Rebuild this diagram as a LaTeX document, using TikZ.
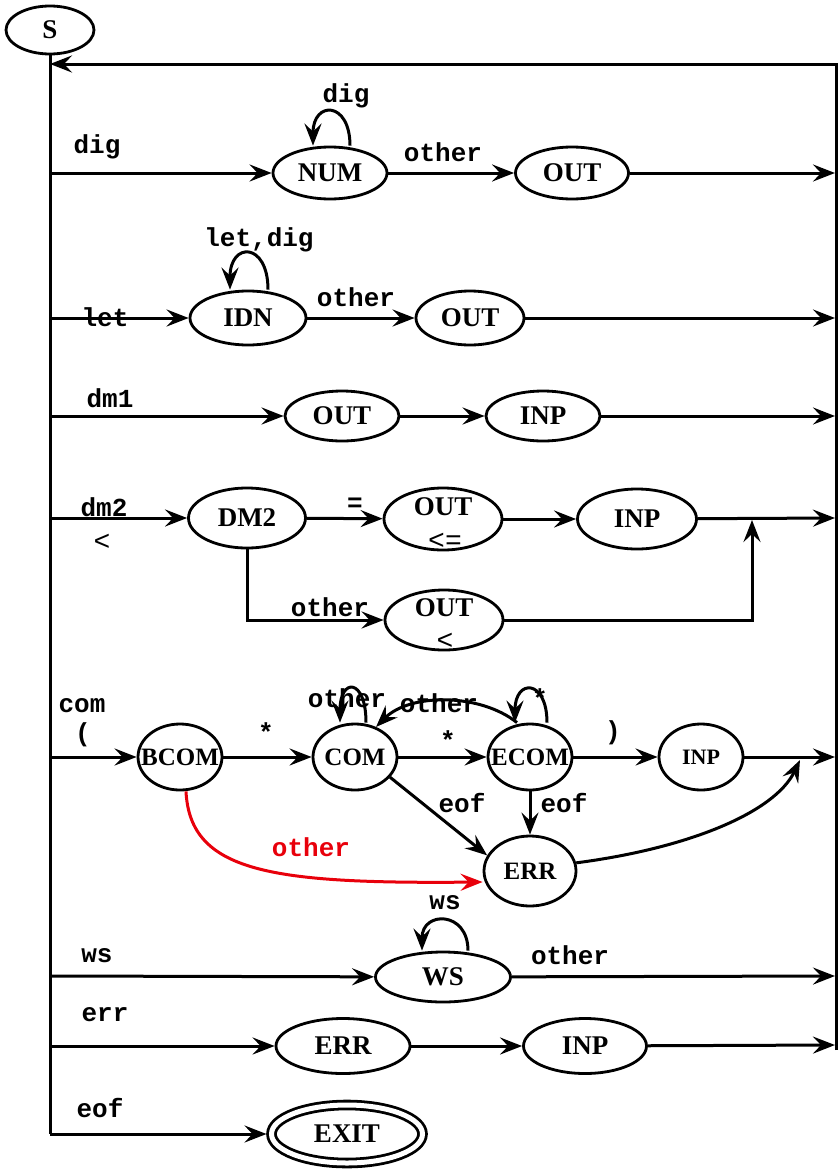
\documentclass[tikz,border=0pt]{standalone}
\usepackage{fontspec}
\setmainfont{Liberation Serif}
\setmonofont{Liberation Mono}
\usetikzlibrary{arrows.meta,shapes.geometric}
\definecolor{errRed}{HTML}{E8000B}

\begin{document}
\begin{tikzpicture}[x=1pt,y=-1pt,
  state/.style={draw,ellipse,line width=2.8pt,inner sep=0pt,
    font=\fontsize{27}{27}\selectfont\bfseries},
  sz/.style 2 args={minimum width=#1pt,minimum height=#2pt},
  cramp/.style={inner xsep=-20pt,font=\fontsize{25}{25}\selectfont\bfseries},
  stxt/.style={inner sep=0pt,font=\fontsize{27}{27}\selectfont\bfseries},
  lbl/.style={inner sep=0pt,font=\fontsize{26}{26}\selectfont\ttfamily\bfseries},
  thin/.style={inner sep=0pt,font=\fontsize{28}{28}\selectfont\ttfamily},
  arr/.style={-{Stealth[length=22pt,width=17pt,inset=8pt]},line width=3pt},
  wire/.style={line width=3pt}
]
\useasboundingbox (0,0) rectangle (838,1170);

% rails
\node[state,sz={88}{48}] (s) at (50,30) {S};
\coordinate (ltop) at (50,64);
\coordinate (rtop) at (836,64);
\coordinate (rbot) at (836,1050);
\coordinate (lbot) at (50,1134);
\draw[wire] (s.south) -- (lbot);
\draw[arr] (rbot) -- (rtop) -- (ltop);

% numbers
\node[state,sz={114}{52}] (num) at (330,173) {NUM};
\node[state,sz={113}{52}] (outa) at (572,173) {OUT};
\coordinate (la) at (50,173);
\coordinate (ra) at (835,173);
\draw[arr] (la) -- (num);
\draw[arr] (num) -- (outa);
\draw[arr] (outa) -- (ra);
\draw[arr] ([xshift=20pt]num.north) .. controls +(0,-45) and +(0,-45) .. ([xshift=-17pt]num.north);
\node[lbl] (tdig) at (97,147) {dig};
\node[lbl] (tdigloop) at (346,96) {dig};
\node[lbl] (tothera) at (443,152) {other};

% identifiers
\node[state,sz={116}{54}] (idn) at (248,318) {IDN};
\node[state,sz={108}{54}] (outb) at (470,318) {OUT};
\coordinate (lb) at (50,318);
\coordinate (rb) at (835,318);
\draw[arr] (lb) -- (idn);
\draw[arr] (idn) -- (outb);
\draw[arr] (outb) -- (rb);
\draw[arr] ([xshift=20pt]idn.north) .. controls +(0,-48) and +(0,-48) .. ([xshift=-18pt]idn.north);
\node[lbl] (tlet) at (105,317) {let};
\node[lbl] (tletdig) at (259,240) {let,dig};
\node[lbl] (totherb) at (356,297) {other};

% single delimiters
\node[state,sz={114}{50}] (outc) at (342,416) {OUT};
\node[state,sz={114}{50}] (inpc) at (543,416) {INP};
\coordinate (lc) at (50,416);
\coordinate (rc) at (835,416);
\draw[arr] (lc) -- (outc);
\draw[arr] (outc) -- (inpc);
\draw[arr] (inpc) -- (rc);
\node[lbl] (tdmone) at (110,398) {dm1};

% double delimiters
\node[state,sz={117}{60}] (dmtwo) at (247,518) {DM2};
\node[state,sz={118}{62}] (outd) at (443,519) {};
\node[stxt] (toutd) at (443,507) {OUT};
\node[thin] (tle) at (445,541) {<=};
\node[state,sz={119}{60}] (inpd) at (637,519) {INP};
\node[state,sz={118}{60}] (oute) at (444,620) {};
\node[stxt] (toute) at (444,608) {OUT};
\node[thin] (tlt) at (445,641) {<};
\coordinate (ld) at (50,518);
\coordinate (rd) at (835,518);
\coordinate (jd) at (752,620);
\coordinate (kd) at (752,520);
\draw[arr] (ld) -- (dmtwo);
\draw[arr] (dmtwo) -- (outd);
\draw[arr] (outd) -- (inpd);
\draw[arr] (inpd) -- (rd);
\draw[arr] (dmtwo.south) |- (oute);
\draw[arr] (oute) -- (jd) -- (kd);
\node[lbl] (tdmtwo) at (104,507) {dm2};
\node[thin] (tless) at (102,542) {<};
\node[lbl] (teq) at (355,505) {=};
\node[lbl] (totherd) at (330,607) {other};

% comments
\node[state,cramp,sz={84}{66}] (bcom) at (180,757) {BCOM};
\node[state,cramp,sz={84}{66}] (com) at (355,757) {COM};
\node[state,cramp,sz={84}{66}] (ecom) at (530,757) {ECOM};
\node[state,cramp,sz={84}{66},font=\fontsize{22}{22}\selectfont\bfseries] (inpf) at (701,757) {INP};
\node[state,cramp,sz={92}{70}] (errf) at (530,871) {ERR};
\coordinate (lf) at (50,757);
\coordinate (rf) at (835,757);
\coordinate (mf) at (800,760);
\draw[arr] (lf) -- (bcom);
\draw[arr] (bcom) -- (com);
\draw[arr] (com) -- (ecom);
\draw[arr] (ecom) -- (inpf);
\draw[arr] (inpf) -- (rf);
\draw[arr] ([xshift=11pt]com.north) .. controls +(0,-45) and +(0,-45) .. ([xshift=-15pt]com.north);
\draw[arr] ([xshift=17pt]ecom.north) .. controls +(0,-44) and +(0,-44) .. ([xshift=-15pt]ecom.north);
\draw[arr] ([xshift=-13pt]ecom.north) .. controls (480,693) and (410,693) .. (com.55);
\draw[arr] (com.-30) -- (errf.160);
\draw[arr] (ecom.south) -- (errf.north);
\draw[arr] (errf.10) .. controls (690,848) and (775,812) .. (mf);
\draw[arr,errRed] ([xshift=6pt]bcom.south) .. controls (190,872) and (270,884) .. ([yshift=-11pt]errf.west);
\node[lbl] (tcom) at (82,706) {com};
\node[lbl] (tparen) at (83,735) {(};
\node[lbl] (tstara) at (266,732) {*};
\node[lbl] (tstarb) at (448,740) {*};
\node[lbl] (tstarc) at (540,698) {*};
\node[lbl] (tothercom) at (347,698) {other};
\node[lbl] (totherecom) at (439,703) {other};
\node[lbl] (trparen) at (613,733) {)};
\node[lbl] (teofa) at (462,803) {eof};
\node[lbl] (teofb) at (564,803) {eof};
\node[lbl,text=errRed] (totherred) at (311,847) {other};

% white space
\node[state,sz={135}{50}] (ws) at (443,977) {WS};
\coordinate (lg) at (50,976);
\coordinate (rg) at (835,976);
\draw[arr] (lg) -- (ws);
\draw[arr] (ws) -- (rg);
\draw[arr] ([xshift=25pt]ws.north) .. controls +(0,-40) and +(0,-40) .. ([xshift=-21pt]ws.north);
\node[lbl] (tws) at (97,956) {ws};
\node[lbl] (twsloop) at (445,903) {ws};
\node[lbl] (totherg) at (570,955) {other};

% errors
\node[state,sz={134}{55}] (errh) at (343,1046) {ERR};
\node[state,sz={123}{55}] (inph) at (585,1046) {INP};
\coordinate (lh) at (50,1046);
\coordinate (rh) at (835,1045);
\draw[arr] (lh) -- (errh);
\draw[arr] (errh) -- (inph);
\draw[arr] (inph) -- (rh);
\node[lbl] (terr) at (105,1015) {err};

% end of file
\node[state,sz={151}{58},double,double distance=5pt,outer sep=5pt] (exit) at (347,1134) {EXIT};
\draw[arr] (lbot) -- (exit);
\node[lbl] (teof) at (100,1108) {eof};
\end{tikzpicture}
\end{document}
